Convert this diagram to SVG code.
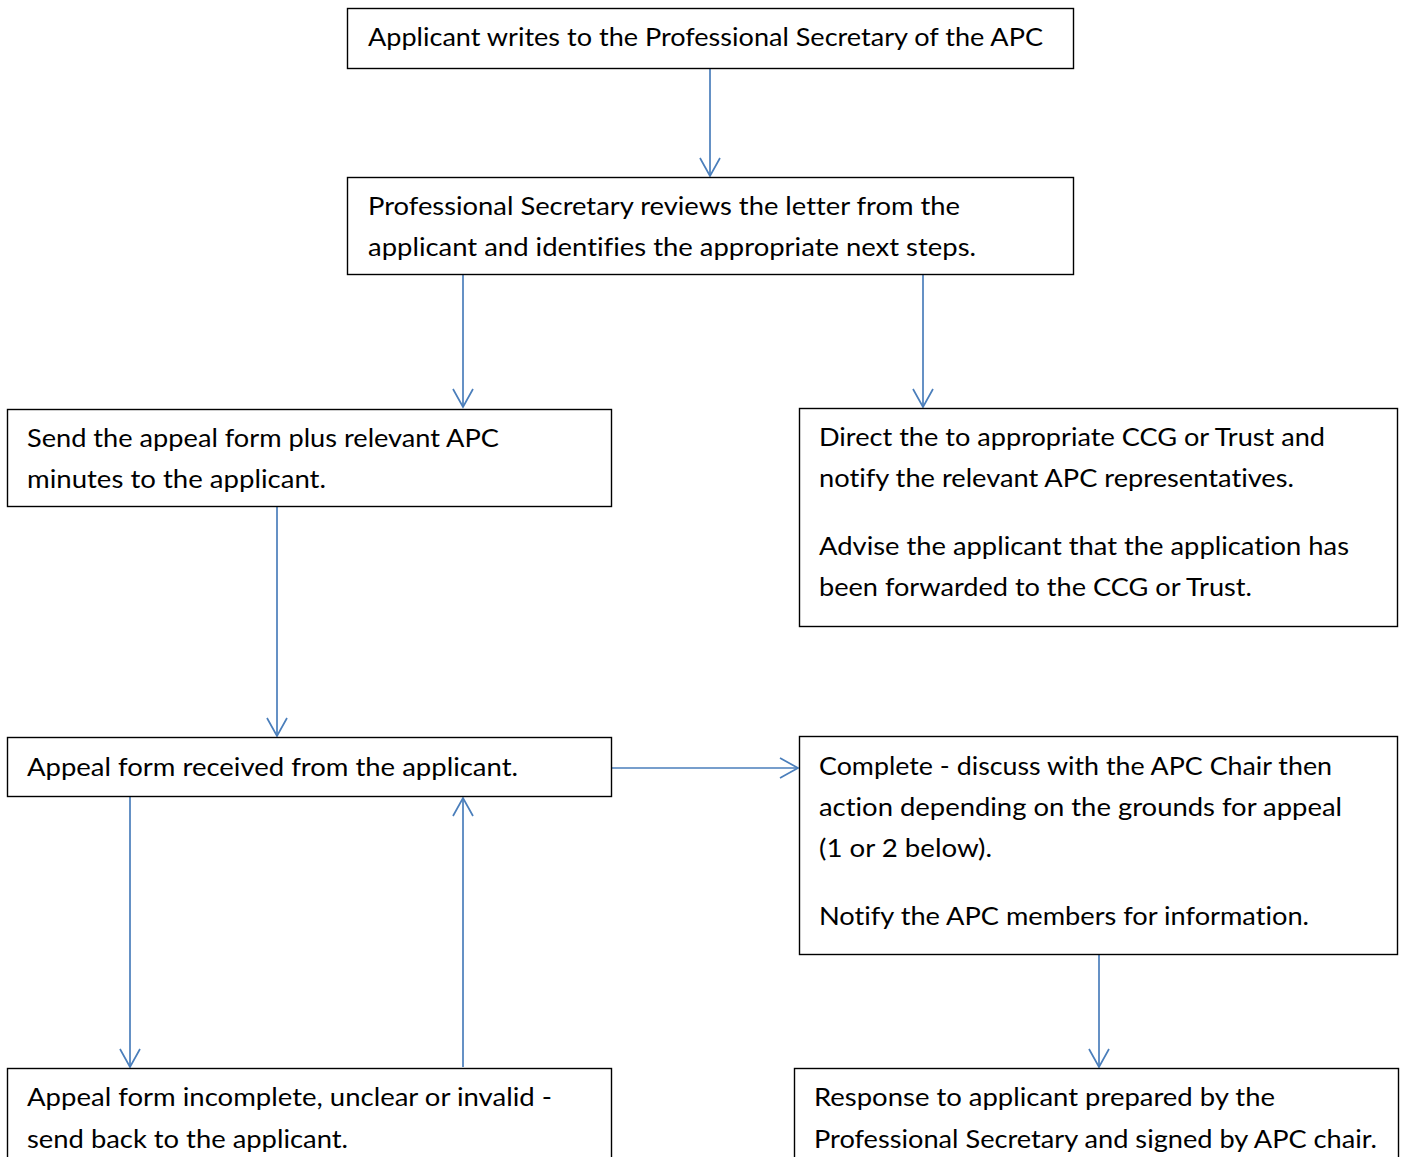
<svg xmlns="http://www.w3.org/2000/svg" width="1402" height="1157" viewBox="0 0 1402 1157">
<style>
.box{fill:#ffffff;stroke:#000000;stroke-width:1.4}
.t{font-family:Lato,"Open Sans","Liberation Sans",sans-serif;font-size:24.5px;fill:#000000;font-variant-ligatures:none}
.c{stroke:#4a7ebb;stroke-width:1.7;fill:none}
</style>
<defs>
<marker id="ah" markerWidth="22" markerHeight="24" refX="19" refY="12" orient="auto" markerUnits="userSpaceOnUse">
<path d="M1,2 L19,12 L1,22" fill="none" stroke="#4a7ebb" stroke-width="1.7"/>
</marker>
</defs>
<rect width="1402" height="1157" fill="#ffffff"/>
<g id="connectors">
<line class="c" x1="710" y1="69" x2="710" y2="176" marker-end="url(#ah)"/>
<line class="c" x1="463" y1="275" x2="463" y2="407" marker-end="url(#ah)"/>
<line class="c" x1="923" y1="275" x2="923" y2="407" marker-end="url(#ah)"/>
<line class="c" x1="277" y1="507" x2="277" y2="736" marker-end="url(#ah)"/>
<line class="c" x1="612" y1="768" x2="798" y2="768" marker-end="url(#ah)"/>
<line class="c" x1="130" y1="797" x2="130" y2="1067" marker-end="url(#ah)"/>
<line class="c" x1="463" y1="1067" x2="463" y2="798" marker-end="url(#ah)"/>
<line class="c" x1="1099" y1="955" x2="1099" y2="1067" marker-end="url(#ah)"/>
</g>
<g id="n1">
<rect class="box" x="347.5" y="8.5" width="726" height="60"/>
<text class="t" x="368" y="46" textLength="675" lengthAdjust="spacingAndGlyphs">Applicant writes to the Professional Secretary of the APC</text>
</g>
<g id="n2">
<rect class="box" x="347.5" y="177.5" width="726" height="97"/>
<text class="t" x="368" y="215" textLength="592" lengthAdjust="spacingAndGlyphs">Professional Secretary reviews the letter from the</text>
<text class="t" x="368" y="256" textLength="608" lengthAdjust="spacingAndGlyphs">applicant and identifies the appropriate next steps.</text>
</g>
<g id="n3">
<rect class="box" x="7.5" y="409.5" width="604" height="97"/>
<text class="t" x="27" y="447" textLength="472" lengthAdjust="spacingAndGlyphs">Send the appeal form plus relevant APC</text>
<text class="t" x="27" y="488" textLength="299" lengthAdjust="spacingAndGlyphs">minutes to the applicant.</text>
</g>
<g id="n4">
<rect class="box" x="799.5" y="408.5" width="598" height="218"/>
<text class="t" x="819" y="446" textLength="506" lengthAdjust="spacingAndGlyphs">Direct the to appropriate CCG or Trust and</text>
<text class="t" x="819" y="487" textLength="475" lengthAdjust="spacingAndGlyphs">notify the relevant APC representatives.</text>
<text class="t" x="819" y="555" textLength="530" lengthAdjust="spacingAndGlyphs">Advise the applicant that the application has</text>
<text class="t" x="819" y="596" textLength="433" lengthAdjust="spacingAndGlyphs">been forwarded to the CCG or Trust.</text>
</g>
<g id="n5">
<rect class="box" x="7.5" y="737.5" width="604" height="59"/>
<text class="t" x="27" y="776" textLength="491" lengthAdjust="spacingAndGlyphs">Appeal form received from the applicant.</text>
</g>
<g id="n6">
<rect class="box" x="799.5" y="736.5" width="598" height="218"/>
<text class="t" x="819" y="775" textLength="513" lengthAdjust="spacingAndGlyphs">Complete - discuss with the APC Chair then</text>
<text class="t" x="819" y="816" textLength="523" lengthAdjust="spacingAndGlyphs">action depending on the grounds for appeal</text>
<text class="t" x="819" y="857" textLength="173" lengthAdjust="spacingAndGlyphs">(1 or 2 below).</text>
<text class="t" x="819" y="925" textLength="490" lengthAdjust="spacingAndGlyphs">Notify the APC members for information.</text>
</g>
<g id="n7">
<rect class="box" x="7.5" y="1068.5" width="604" height="120"/>
<text class="t" x="27" y="1106" textLength="525" lengthAdjust="spacingAndGlyphs">Appeal form incomplete, unclear or invalid -</text>
<text class="t" x="27" y="1148" textLength="321" lengthAdjust="spacingAndGlyphs">send back to the applicant.</text>
</g>
<g id="n8">
<rect class="box" x="794.5" y="1068.5" width="604" height="120"/>
<text class="t" x="814" y="1106" textLength="461" lengthAdjust="spacingAndGlyphs">Response to applicant prepared by the</text>
<text class="t" x="814" y="1148" textLength="563" lengthAdjust="spacingAndGlyphs">Professional Secretary and signed by APC chair.</text>
</g>
</svg>
